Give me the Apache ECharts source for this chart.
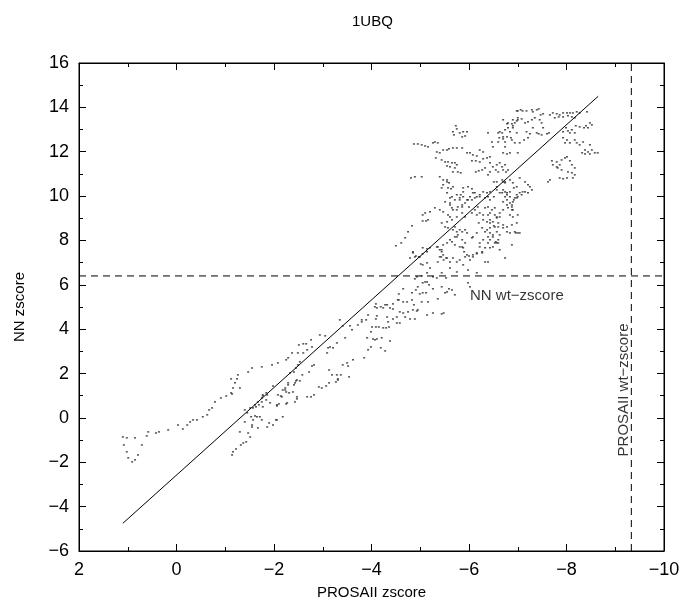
<!DOCTYPE html>
<html>
<head>
<meta charset="utf-8">
<script src="https://cdn.jsdelivr.net/npm/echarts@6/dist/echarts.min.js"></script>
<style>
html, body { margin: 0; padding: 0; background: #fff; }
#chart { width: 683px; height: 608px; }
</style>
</head>
<body>
<div id="chart"></div>
<script>
// Axis ranges and reference levels
const xRange = [-10, 2];
const yRange = [-6, 16];
const nnWtZscore = 6.4;
const prosaWtZscore = -9.33;
const fitLine = [[1.1, -4.75], [-8.65, 14.5]];

// Decoy zscores: upper-left arm
const armUpper = [
  [1.10,-0.86],[1.08,-1.22],[1.02,-1.53],[0.99,-1.80],[0.91,-1.98],[0.85,-1.89],[0.79,-1.67],[0.71,-1.22],
  [1.02,-0.90],[0.85,-0.90],[0.61,-0.81],[0.58,-0.63],[0.42,-0.68],[0.36,-0.63],[0.17,-0.54],[-0.03,-0.32],
  [-0.13,-0.50],[-0.22,-0.32],[-0.28,-0.18],[-0.34,-0.09],[-0.42,-0.09],[-0.54,0.05],[-0.63,0.14],[-0.67,0.36],
  [-0.73,0.45],[-0.79,0.72],[-0.91,0.90],[-1.02,0.99],[-1.12,1.13],[-1.16,1.35],[-1.20,1.58],[-1.24,1.76],
  [-1.26,1.94],[-1.12,1.76],[-1.14,1.08],[-1.30,1.35],[-1.47,2.07],[-1.55,2.25],[-1.75,2.30],[-1.96,2.39],
  [-2.08,2.48],[-2.25,2.62],[-2.29,2.71],[-2.33,2.03],[-2.41,2.07],[-2.45,2.25],[-2.49,2.39],[-2.53,2.53],
  [-2.60,2.93],[-2.49,2.93],[-2.37,2.93],[-2.68,3.07],[-2.78,3.20],[-2.51,3.29],[-2.60,3.34],[-2.66,3.34],
  [-2.76,3.52],[-2.94,3.74],[-3.05,3.70],[-3.09,2.93],[-3.11,3.16],[-3.15,3.20],[-3.29,3.38],[-3.21,3.16],
  [-3.46,3.61],[-3.35,4.42],[-3.41,4.15],[-3.56,4.15],[-3.60,3.97],[-3.72,4.19],[-3.80,4.33],[-3.93,4.64],
  [-4.07,5.01],[-4.09,5.14],[-4.19,5.01],[-4.28,5.10],[-4.32,5.10],[-4.44,5.14],[-4.56,5.32],
  [-4.50,7.76],[-4.61,7.89],[-4.69,8.12],[-4.75,8.39],[-4.83,8.66]
];

// Decoy zscores: lower arm
const armLower = [
  [-1.30,-0.63],[-1.47,-0.68],[-1.51,-0.86],[-1.55,-0.32],[-1.57,-0.09],[-1.65,0.05],[-1.75,-0.09],[-1.86,-0.41],
  [-1.40,0.36],[-1.45,0.23],[-1.51,0.45],[-1.61,0.59],[-1.67,0.72],[-1.75,0.90],[-1.77,1.04],[-1.84,1.13],
  [-1.92,0.68],[-2.06,0.59],[-2.08,1.04],[-2.16,0.95],[-2.18,1.26],[-2.23,1.35],[-2.29,1.58],[-2.06,-0.09],
  [-2.18,0.05],[-1.67,-0.45],[-1.98,-0.32],[-1.14,-1.67],[-1.16,-1.53],[-1.22,-1.40],[-1.32,-1.22],[-1.37,-1.13],
  [-1.43,-1.08],[-1.55,-0.41],[-1.40,-0.18],[-1.53,0.05],[-1.61,0.09],[-1.71,0.05],[-1.90,-0.23],[-2.04,-0.09],
  [-1.57,0.45],[-1.63,0.50],[-1.69,0.59],[-1.75,0.72],[-1.84,0.81],[-1.77,0.99],[-1.86,1.04],[-1.77,0.50],
  [-2.06,0.54],[-2.10,0.63],[-2.25,0.63],[-2.27,0.68],[-2.43,0.72],[-2.47,0.86],[-2.47,0.95],[-2.14,0.99],
  [-2.23,1.26],[-2.25,1.17],[-2.31,1.13],[-2.29,1.49],[-2.43,1.58],[-2.45,1.67],[-2.53,1.67],[-1.98,1.44],
  [-2.68,0.95],[-2.76,0.95],[-2.82,1.04],[-2.92,1.40],[-2.98,1.35],[-3.07,1.44],[-3.13,1.58],[-3.27,1.62],
  [-3.31,1.71],[-2.39,1.17],[-2.47,1.71],[-2.41,1.49],[-2.58,1.94],[-2.72,2.07],[-2.78,2.34],[-2.82,2.39],
  [-3.19,1.94],[-3.13,2.16],[-3.29,1.94],[-3.31,1.76],[-3.37,1.94],[-3.41,2.39],[-3.50,2.48],[-3.52,2.34],
  [-3.54,1.85],[-3.62,2.62],[-3.85,2.71],[-3.93,3.07],[-3.99,3.20],[-4.19,3.16],[-4.28,3.02]
];

// Decoy zscores: middle band around the wild-type level
const midBand = [
  [-3.91,3.61],[-4.03,3.56],[-4.07,3.52],[-4.11,3.56],[-4.21,3.61],[-4.38,3.47],[-3.99,3.88],[-4.01,4.10],
  [-4.09,4.10],[-4.15,4.10],[-4.24,4.06],[-4.30,4.06],[-4.36,4.10],[-4.52,4.28],[-4.58,4.28],[-4.34,4.33],
  [-3.80,4.42],[-3.89,4.42],[-4.09,4.46],[-4.11,4.60],[-4.32,4.55],[-4.44,4.46],[-4.52,4.55],[-4.69,4.55],
  [-4.79,4.46],[-4.89,4.46],[-4.58,4.78],[-4.65,4.73],[-4.75,4.78],[-4.85,4.87],[-4.93,4.82],[-4.11,4.96],
  [-4.24,4.96],[-4.38,4.96],[-4.44,4.91],[-4.54,5.32],[-4.65,5.23],[-4.73,5.23],[-4.83,5.32],[-4.87,5.10],
  [-4.95,4.87],[-5.03,5.23],[-5.14,4.64],[-5.26,4.73],[-5.44,4.69],[-5.48,4.73],[-5.36,5.37],[-5.16,5.23],
  [-4.56,5.59],[-4.65,5.82],[-4.83,5.64],[-4.91,5.77],[-4.99,5.59],[-5.05,5.64],[-5.12,5.64],[-4.95,5.91],
  [-5.05,6.09],[-5.10,6.13],[-5.14,6.13],[-5.18,6.00],[-5.26,5.82],[-5.51,5.64],[-5.59,5.82],[-4.89,6.27],
  [-4.93,6.36],[-5.03,6.40],[-5.14,6.54],[-5.26,6.36],[-5.34,6.31],[-5.44,6.54],[-5.53,6.31],[-5.01,6.94],
  [-5.05,6.90],[-5.14,6.99],[-5.20,6.76],[-5.40,7.26],[-5.48,7.12],[-5.53,7.21],[-4.85,7.49],[-4.91,7.30],
  [-4.97,7.26],[-4.79,7.21],[-5.05,7.67],[-5.14,7.62],[-5.36,7.71],[-5.44,7.49],[-5.36,7.03],
  [-4.99,7.26],[-5.05,7.40],[-5.14,7.49],[-5.20,7.67],[-5.34,7.71],[-5.40,7.58],[-5.47,7.35],[-5.43,7.26],
  [-4.85,7.44],[-4.89,7.26],[-5.75,8.16],[-5.65,7.94],[-5.71,7.80],[-5.88,7.67]
];

// Decoy zscores: upper cloud
const cloudHigh = [
  [-4.87,12.35],[-4.95,12.35],[-5.03,12.31],[-5.10,12.26],[-5.16,12.22],[-5.26,12.40],[-5.30,12.44],[-5.36,12.40],
  [-5.34,11.99],[-5.40,11.95],[-5.32,11.72],[-5.44,11.63],[-5.51,11.54],[-5.57,11.54],[-5.55,11.36],[-5.65,11.50],
  [-5.71,11.50],[-5.75,11.41],[-5.77,11.09],[-5.83,11.05],[-5.61,11.32],[-5.71,11.27],[-5.67,11.09],[-5.47,12.08],
  [-5.55,12.08],[-5.59,12.13],[-5.67,12.17],[-5.75,12.17],[-5.86,12.17],[-5.67,12.90],[-5.73,13.17],[-5.75,13.03],
  [-5.81,12.85],[-5.88,12.90],[-5.92,12.71],[-5.86,12.67],[-5.69,12.76],[-5.96,12.90],[-4.81,10.82],[-4.89,10.87],
  [-5.03,10.87],[-5.40,10.87],[-5.47,10.73],[-5.55,10.64],[-5.59,10.60],[-5.67,10.42],[-5.63,10.33],[-5.47,10.51],
  [-5.44,10.37],[-5.57,10.37],[-5.55,10.73],[-5.88,10.37],[-5.98,10.42],[-6.06,10.33],[-5.96,11.95],[-6.02,11.95],
  [-6.08,11.86],[-6.06,11.59],[-6.14,11.59],[-6.22,11.54],[-6.29,11.68],[-6.16,11.81],[-6.22,12.08],[-6.29,11.99],
  [-6.37,11.72],[-6.43,11.77],[-6.43,11.50],[-6.49,11.32],[-6.57,11.41],[-6.68,11.32],[-6.76,11.09],[-6.80,11.18],
  [-6.74,11.41],[-6.60,11.09],[-6.55,11.18],[-6.63,11.50],[-6.70,11.95],[-6.78,11.90],[-6.49,12.22],[-6.47,12.44],
  [-6.60,12.44],[-6.62,12.63],[-6.70,12.58],[-6.74,12.44],[-6.60,12.85],[-6.63,12.90],[-6.74,12.99],[-6.80,13.08],
  [-6.84,12.90],[-6.90,13.17],[-6.94,13.30],[-6.98,13.39],[-6.90,13.44],[-7.00,13.53],[-6.70,13.44],[-6.78,13.26],
  [-6.98,13.84],[-6.86,12.63],[-6.98,12.85],[-7.00,11.95],[-6.84,11.95],[-6.74,12.22],[-6.39,12.85],[-6.20,11.14],
  [-6.14,11.09],[-6.27,11.18],[-6.33,11.27],[-6.43,11.09],[-6.39,10.96],[-6.51,10.64],[-6.57,10.64],[-6.68,10.73],
  [-6.74,10.64],[-6.57,10.42],[-6.70,10.28],[-6.74,10.19],[-6.92,10.37],[-6.98,10.42],[-6.84,10.19],[-6.98,9.92],
  [-6.92,9.83],[-6.78,9.83],[-6.74,9.97],[-6.63,10.15],[-6.51,9.97],[-6.43,9.83],[-6.39,9.97],[-6.33,9.92],
  [-6.22,9.97],[-6.12,10.15],[-6.12,9.92],[-6.02,9.97],[-6.06,9.83],[-5.96,9.83],[-5.88,9.97],[-5.83,10.06],
  [-5.81,9.83],[-5.86,9.51],[-5.92,9.69],[-6.00,9.51],[-6.06,9.24],[-6.12,9.38],[-6.18,9.51],[-6.16,9.15],
  [-6.33,9.47],[-6.39,9.51],[-6.47,9.38],[-6.43,9.24],[-6.53,9.15],[-6.57,9.02],[-6.63,9.24],[-6.70,9.38],
  [-6.80,9.47],[-6.88,9.38],[-6.84,9.15],[-6.90,9.06],[-7.00,9.15],[-6.98,8.79],[-7.00,8.34],[-6.94,8.39],
  [-6.84,8.34],[-6.78,8.39],[-6.70,8.57],[-6.60,8.61],[-6.51,8.66],[-6.43,8.79],[-6.37,8.84],[-6.29,8.93],
  [-6.20,8.79],[-6.27,8.57],[-6.33,8.39],[-6.43,8.34],[-6.49,8.16],[-6.55,7.94],[-6.60,8.03],[-6.57,7.89],
  [-6.49,7.71],[-6.43,7.67],[-6.39,7.89],[-6.33,7.67],[-6.22,7.71],[-6.27,7.44],[-6.16,7.40],[-6.08,7.35],
  [-6.00,7.30],[-5.96,7.35],[-5.92,7.26],[-5.90,7.49],[-5.81,7.71],[-5.86,8.03],[-5.77,8.25],[-5.75,8.39],
  [-5.81,8.48],[-5.71,8.61],[-5.65,8.93],[-5.57,9.15],[-5.47,9.29],[-5.40,9.38],[-5.30,9.47],[-5.20,9.29],
  [-5.10,9.24],[-5.05,9.15],[-5.16,8.93],[-5.12,8.88],[-5.05,8.88],[-5.75,9.38],[-5.86,9.24],[-5.92,9.06],
  [-5.75,9.06],[-5.65,9.47],[-5.61,9.69],[-5.88,10.19],[-5.71,9.83],[-5.61,9.92],[-5.55,10.15]
];

// Decoy zscores: top ridge
const ridgeTop = [
  [-7.00,13.84],[-7.06,13.89],[-7.10,13.84],[-7.18,13.84],[-7.29,13.89],[-7.31,13.80],[-7.39,13.89],[-7.43,13.93],
  [-7.47,13.66],[-7.52,13.71],[-7.66,13.66],[-7.72,13.75],[-7.80,13.71],[-7.86,13.66],[-7.93,13.75],[-8.01,13.75],
  [-8.07,13.75],[-8.13,13.75],[-8.21,13.80],[-8.27,13.75],[-7.76,13.53],[-7.84,13.57],[-7.93,13.57],[-8.03,13.62],
  [-8.11,13.57],[-8.17,13.53],[-8.42,13.80],[-8.48,13.30],[-8.40,13.17],[-8.36,13.08],[-8.44,13.08],[-8.52,13.21],
  [-8.27,13.12],[-8.19,13.17],[-8.11,12.99],[-8.03,12.94],[-7.99,13.08],[-7.93,12.90],[-8.07,12.85],[-8.17,12.85],
  [-7.93,12.63],[-8.01,12.53],[-7.97,12.40],[-8.07,12.40],[-8.17,12.53],[-8.21,12.40],[-8.27,12.31],[-8.34,12.44],
  [-8.38,12.08],[-8.44,11.99],[-8.52,12.08],[-8.58,11.95],[-8.64,11.95],[-8.48,12.31],[-8.38,11.90],[-8.48,11.90],
  [-8.32,11.95],[-6.80,13.30],[-6.88,13.26],[-7.00,13.44],[-7.08,13.48],[-7.15,13.30],[-7.21,13.35],[-7.29,13.44],
  [-7.35,13.53],[-7.45,13.44],[-7.49,13.30],[-7.52,13.08],[-7.31,13.08],[-7.39,12.85],[-7.43,12.81],[-7.49,12.76],
  [-7.60,12.81],[-7.64,12.85],[-7.18,12.90],[-7.25,12.81],[-7.21,12.63],[-7.13,12.53],[-7.04,12.40],[-6.94,12.40],
  [-6.88,12.53],[-6.78,12.67],[-6.70,12.67],[-6.68,12.85],[-6.90,13.08],
  [-7.70,11.59],[-7.80,11.54],[-7.90,11.63],[-7.97,11.72],[-8.01,11.77],[-8.07,11.59],[-7.86,11.41],[-7.80,11.32],
  [-7.72,11.41],[-7.82,11.27],[-7.90,11.18],[-8.03,11.09],[-8.11,11.05],[-8.17,10.96],[-8.13,10.82],[-8.01,10.82],
  [-7.93,10.78],[-7.86,10.82],[-8.11,11.41],[-7.66,10.73],[-7.62,10.64],[-8.17,11.27],
  [-6.70,11.18],[-7.04,10.82],[-7.15,10.64],[-7.21,10.51],[-7.25,10.42],[-7.29,10.28],[-7.21,10.15],[-7.15,10.19],
  [-7.08,10.06],[-7.00,9.97],[-6.94,9.92],[-6.90,9.74],[-6.84,9.69],[-6.88,9.51],[-6.78,9.60],[-6.70,9.74],
  [-6.78,10.15],[-6.74,10.60],[-6.70,10.64],[-6.84,10.73],[-6.90,10.60]
];

// Decoy zscores: core below the fit line
const coreRight = [
  [-5.65,9.97],[-5.75,10.06],[-5.81,9.92],[-5.98,9.83],[-6.08,10.15],[-6.16,9.97],[-6.22,10.06],[-6.29,10.19],
  [-6.37,10.15],[-6.43,10.19],[-6.57,10.28],[-6.68,10.15],[-6.78,10.06],[-6.84,9.97],[-6.98,10.06],[-7.04,10.15],
  [-7.10,10.19],[-6.88,9.60],[-6.90,9.38],[-6.22,9.24],[-6.29,9.15],[-6.39,9.15],[-6.53,9.47],[-6.57,9.06],
  [-6.63,9.06],[-6.43,8.93],[-6.49,8.84],[-6.60,8.79],[-6.70,8.70],[-6.78,8.61],[-6.88,8.70],[-6.96,8.34],
  [-7.04,8.34],[-6.53,8.61],[-6.43,8.57],[-6.37,8.48],[-6.57,8.39],[-6.63,8.25],[-6.49,8.25],[-6.39,8.16],
  [-6.29,8.03],[-6.43,8.03],[-6.53,7.89],[-6.60,7.89],[-6.22,7.89],[-6.27,7.49],[-6.16,7.44],[-6.08,7.26],
  [-6.02,7.12],[-5.81,7.12],[-5.75,7.03],[-5.67,7.21],[-5.61,7.03],[-5.55,7.21],[-5.44,7.58],[-5.47,7.80],
  [-5.55,7.89],[-5.61,8.03],[-5.71,8.16],[-5.86,8.39],[-5.92,8.48],[-5.96,8.34],[-5.67,8.48],[-5.57,8.57],
  [-5.51,8.61],[-5.44,8.79],[-5.55,8.84],[-5.61,9.06],[-5.67,9.38],[-5.77,9.51],[-5.86,9.60],[-5.61,9.60],
  [-5.51,9.74],[-6.16,8.34],[-6.08,8.16],[-6.06,8.12],[-5.88,6.90],[-5.98,6.67],[-5.75,6.58],[-5.61,6.76],
  [-6.16,6.54],[-6.33,7.03],[-6.39,7.03],[-5.92,7.89],[-5.86,7.71],[-5.65,5.77],[-5.71,5.55],[-5.98,6.09],
  [-6.02,5.91],[-5.44,5.91],[-5.55,5.68],[-6.74,7.21],[-6.88,7.80],[-6.63,7.58]
];

const decoys = [].concat(armUpper, armLower, midBand, cloudHigh, ridgeTop, coreRight);

const chart = echarts.init(document.getElementById('chart'), null, { renderer: 'canvas' });

const FONT = 'Liberation Sans, Arial, Helvetica, sans-serif';
const minus = v => String(v).replace('-', '\u2212');

function axisCommon(showLabels) {
  return {
    axisLine: { show: true, onZero: false, lineStyle: { color: '#000', width: 1 } },
    axisTick: { show: true, inside: true, length: 7, lineStyle: { color: '#000' } },
    minorTick: { show: true, splitNumber: 2, length: 4, lineStyle: { color: '#000' } },
    splitLine: { show: false },
    axisLabel: {
      show: showLabels, color: '#000', fontFamily: FONT, fontSize: 18, margin: 10,
      formatter: minus
    }
  };
}

chart.setOption({
  animation: false,
  backgroundColor: '#fff',
  title: {
    text: '1UBQ', left: 347, top: 9,
    textStyle: { fontFamily: FONT, fontSize: 15, fontWeight: 'normal', color: '#000' }
  },
  grid: { left: 79, right: 19, top: 63, bottom: 57, show: true, borderColor: '#000', borderWidth: 1 },
  xAxis: [
    Object.assign({
      type: 'value', min: xRange[0], max: xRange[1], interval: 2, inverse: true, position: 'bottom',
      name: 'PROSAII zscore', nameLocation: 'middle', nameGap: 34,
      nameTextStyle: { fontFamily: FONT, fontSize: 15, color: '#000' }
    }, axisCommon(true)),
    Object.assign({
      type: 'value', min: xRange[0], max: xRange[1], interval: 2, inverse: true, position: 'top'
    }, axisCommon(false))
  ],
  yAxis: [
    Object.assign({
      type: 'value', min: yRange[0], max: yRange[1], interval: 2, position: 'left',
      name: 'NN zscore', nameLocation: 'middle', nameGap: 52, nameRotate: 90,
      nameTextStyle: { fontFamily: FONT, fontSize: 15, color: '#000' }
    }, axisCommon(true)),
    Object.assign({
      type: 'value', min: yRange[0], max: yRange[1], interval: 2, position: 'right'
    }, axisCommon(false))
  ],
  series: [
    {
      type: 'scatter', data: decoys, symbol: 'rect', symbolSize: [2, 1.5],
      itemStyle: { color: '#222' }, silent: true
    },
    {
      type: 'line', data: fitLine, symbol: 'none',
      lineStyle: { color: '#000', width: 1 }, silent: true
    },
    {
      type: 'line', data: [[xRange[1], nnWtZscore], [xRange[0], nnWtZscore]], symbol: 'none',
      lineStyle: { color: '#000', width: 1, type: [7, 5] }, silent: true
    },
    {
      type: 'line', data: [[prosaWtZscore, yRange[0]], [prosaWtZscore, yRange[1]]], symbol: 'none',
      lineStyle: { color: '#000', width: 1, type: [7, 5] }, silent: true
    },
    {
      type: 'scatter', symbolSize: 0, silent: true,
      data: [[-6.02, 5.5]],
      label: {
        show: true, position: 'right', distance: 0, formatter: 'NN wt\u2212zscore',
        fontFamily: FONT, fontSize: 15, color: '#000'
      }
    },
    {
      type: 'scatter', symbolSize: 0, silent: true,
      data: [[-9.18, 1.26]],
      label: {
        show: true, position: 'inside', rotate: 90, formatter: 'PROSAII wt\u2212zscore',
        fontFamily: FONT, fontSize: 15, color: '#000', align: 'center', verticalAlign: 'middle'
      }
    }
  ]
});
</script>
</body>
</html>
